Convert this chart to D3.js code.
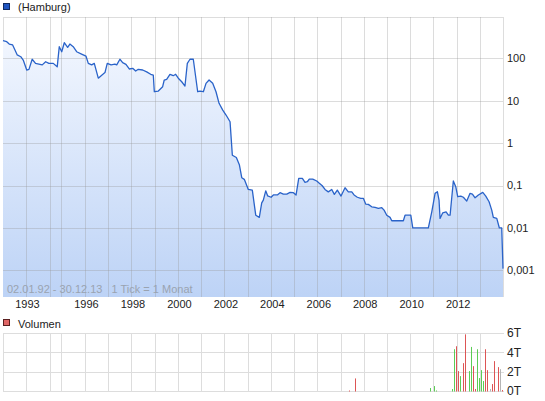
<!DOCTYPE html>
<html>
<head>
<meta charset="utf-8">
<script src="https://cdn.jsdelivr.net/npm/d3@7"></script>
<style>
  body { margin: 0; background: #fff; }
  svg text { font-family: "Liberation Sans", Arial, sans-serif; font-size: 11px; fill: #222; }
</style>
</head>
<body>
<div id="chart"></div>
<script>
// price series
const priceDates = ["1992-01-02","1992-03-01","1992-04-10","1992-06-03","1992-07-10","1992-08-15","1992-10-10","1992-11-18","1993-01-12","1993-02-15",
  "1993-04-05","1993-05-26","1993-07-16","1993-09-05","1993-10-27","1993-12-15","1994-04-20","1994-08-28","1994-11-05","1995-01-12",
  "1995-02-20","1995-04-12","1995-05-16","1995-07-06","1995-08-27","1995-11-10","1996-01-16","1996-02-22","1996-04-15","1996-05-26",
  "1996-07-28","1996-09-20","1996-11-10","1996-12-16","1997-02-14","1997-04-15","1997-05-14","1997-07-03","1997-08-15","1997-10-06",
  "1997-11-27","1998-01-20","1998-03-08","1998-04-18","1998-06-26","1998-08-28","1998-10-30","1998-12-10","1998-12-26","1999-02-27",
  "1999-05-06","1999-05-31","1999-07-08","1999-08-29","1999-10-20","1999-11-27","2000-01-07","2000-03-01","2000-04-21","2000-05-28",
  "2000-07-09","2000-08-30","2000-11-07","2000-12-13","2001-02-04","2001-03-18","2001-05-05","2001-07-01","2001-08-22","2001-10-09",
  "2001-12-06","2002-01-27","2002-03-31","2002-05-06","2002-07-08","2002-08-24","2002-10-01","2002-11-10","2003-01-12","2003-03-16",
  "2003-05-09","2003-07-04","2003-08-11","2003-09-05","2003-10-13","2003-11-13","2004-01-05","2004-02-10","2004-04-13","2004-05-25",
  "2004-07-16","2004-09-08","2004-10-30","2004-12-21","2005-02-01","2005-03-15","2005-05-11","2005-06-22","2005-07-28","2005-08-28",
  "2005-10-21","2005-12-23","2006-02-02","2006-03-20","2006-05-02","2006-06-23","2006-08-16","2006-09-26","2006-11-12","2007-01-09",
  "2007-03-13","2007-05-04","2007-06-27","2007-08-02","2007-09-23","2007-11-15","2007-12-26","2008-02-01","2008-03-13","2008-05-06",
  "2008-06-27","2008-08-18","2008-10-11","2008-11-16","2008-12-28","2009-02-18","2009-03-17","2009-06-04","2009-09-15","2009-10-12",
  "2010-01-10","2010-02-10","2010-06-05","2010-10-13","2010-12-06","2011-01-27","2011-03-04","2011-03-30","2011-04-15","2011-05-28",
  "2011-07-19","2011-08-24","2011-09-20","2011-11-10","2011-12-18","2012-01-18","2012-03-06","2012-04-16","2012-06-08","2012-07-30",
  "2012-09-05","2012-10-17","2012-12-08","2013-02-15","2013-04-03","2013-05-25","2013-07-06","2013-07-31","2013-09-23","2013-11-03",
  "2013-12-10","2013-12-30"];
const priceValues = [260,247,217,206,157,120,109,91,53,55,
  95,76,73,70,83,76,76,63,188,143,
  233,181,217,188,143,126,113,76,70,76,
  34,40,46,76,70,73,70,95,79,72,
  56,58,50,55,53,48,42,40,16.3,16.9,
  21.4,30.8,32,42,38.9,42,34,28,22.2,76,
  95,95,16.3,16.9,16.3,25.7,30.8,25.7,16.3,8.7,
  6.0,4.6,3.2,0.52,0.457,0.31,0.153,0.14,0.081,0.078,
  0.020,0.0178,0.039,0.0455,0.075,0.057,0.053,0.060,0.060,0.068,
  0.063,0.063,0.069,0.068,0.060,0.148,0.148,0.119,0.123,0.142,
  0.142,0.128,0.113,0.099,0.081,0.071,0.081,0.062,0.078,0.0565,
  0.0887,0.071,0.071,0.060,0.053,0.050,0.050,0.0366,0.036,0.0316,
  0.0306,0.029,0.030,0.0264,0.020,0.0178,0.0148,0.0148,0.0148,0.020,
  0.020,0.010,0.010,0.010,0.024,0.0655,0.0715,0.0455,0.0168,0.0228,
  0.024,0.020,0.020,0.128,0.094,0.0545,0.0565,0.053,0.043,0.0655,
  0.063,0.0515,0.060,0.069,0.0565,0.0415,0.0264,0.0178,0.0168,0.010,
  0.010,0.0011];

// monthly volume, in T (thousands)
const volumeMonths = ["2007-05","2007-08","2010-11","2011-01","2011-02","2011-10","2011-11","2011-12","2012-01","2012-02",
  "2012-04","2012-05","2012-07","2012-08","2012-09","2012-10","2012-11","2012-12","2013-01","2013-02",
  "2013-03","2013-04","2013-06","2013-07","2013-08","2013-10","2013-11","2013-12"];
const volumeValues = [0.05,1.3,0.31,0.51,0.05,0.2,4.32,4.63,2.06,1.54,
  2.88,5.86,2.06,4.56,2.57,0.21,4.32,1.34,2.16,1.03,
  4.32,2.16,0.21,0.72,3.09,2.47,2.26,0.1];
const volumeMoves = ["down","down","up","up","up","up","up","down","down","up",
  "down","down","up","up","down","down","up","up","up","up",
  "down","down","flat","down","down","down","flat","down"];

const yTicks = [100, 10, 1, 0.1, 0.01, 0.001];
const yTickLabels = ["100", "10", "1", "0,1", "0,01", "0,001"];
const volTicks = [0, 2, 4, 6];
const volTickLabels = ["0T", "2T", "4T", "6T"];
const gridYears = d3.range(1993, 2014);
const xLabelYears = [1993, 1996, 1998, 2000, 2002, 2004, 2006, 2008, 2010, 2012];

const width = 545, height = 401;
const parse = d3.timeParse("%Y-%m-%d");
const parseMonth = d3.timeParse("%Y-%m");

const svg = d3.select("#chart").append("svg")
    .attr("width", width)
    .attr("height", height);

// index based time axis: the early years hold fewer points, so they are narrower
const x = d3.scaleTime()
    .domain(["1992-01-02", "1993-01-01", "1994-01-01", "1995-01-01", "1996-01-01", "2013-12-30"].map(parse))
    .range([3, 26, 50, 61, 85, 503]);

const plot = {left: 3, right: 503, top: 17, bottom: 296};
const y = d3.scaleLog()
    .domain([Math.pow(10, -3.604), Math.pow(10, 2.974)])
    .range([plot.bottom, plot.top]);

const vol = {top: 333, bottom: 391};
const yv = d3.scaleLinear().domain([0, 6]).range([vol.bottom, vol.top]);

const px = v => Math.round(v) + 0.5;

// legend, price
svg.append("rect").attr("x", 3.5).attr("y", 3.5).attr("width", 6).attr("height", 6)
    .attr("fill", "#1f55c0").attr("stroke", "#102a60");
svg.append("text").attr("x", 18).attr("y", 11).text("(Hamburg)");

// fill gradient
const defs = svg.append("defs");
const grad = defs.append("linearGradient").attr("id", "fillGrad")
    .attr("gradientUnits", "userSpaceOnUse")
    .attr("x1", 0).attr("x2", 0).attr("y1", plot.top).attr("y2", plot.bottom);
grad.append("stop").attr("offset", "0%").attr("stop-color", "#f6f9ff");
grad.append("stop").attr("offset", "100%").attr("stop-color", "#bdd3f6");

const data = priceDates.map((d, i) => ({date: parse(d), value: priceValues[i]}));

// plot frame
svg.append("rect")
    .attr("x", plot.left + 0.5).attr("y", plot.top + 0.5)
    .attr("width", plot.right - plot.left).attr("height", plot.bottom - plot.top)
    .attr("fill", "#fff").attr("stroke", "#dddddd");

const area = d3.area()
    .x(d => x(d.date))
    .y0(plot.bottom + 1)
    .y1(d => y(d.value));
svg.append("path").datum(data)
    .attr("d", area)
    .attr("fill", "url(#fillGrad)");

// grid on top of the fill
const grid = svg.append("g").attr("stroke", "rgba(150,150,150,0.33)").attr("stroke-width", 1);
grid.selectAll("line.v").data(gridYears).join("line")
    .attr("x1", d => px(x(new Date(d, 0, 1)))).attr("x2", d => px(x(new Date(d, 0, 1))))
    .attr("y1", plot.top).attr("y2", plot.bottom + 1);
grid.selectAll("line.h").data(yTicks).join("line")
    .attr("x1", plot.left).attr("x2", plot.right)
    .attr("y1", d => px(y(d))).attr("y2", d => px(y(d)));

const line = d3.line()
    .x(d => x(d.date))
    .y(d => y(d.value));
svg.append("path").datum(data)
    .attr("d", line)
    .attr("fill", "none")
    .attr("stroke", "#2a63c9")
    .attr("stroke-width", 1.3)
    .attr("stroke-linejoin", "round");

// y axis labels
svg.selectAll("text.ylab").data(yTicks).join("text")
    .attr("class", "ylab")
    .attr("x", 507)
    .attr("y", d => y(d))
    .attr("dy", "0.35em")
    .text((d, i) => yTickLabels[i]);

// range note
svg.append("text")
    .attr("x", 7).attr("y", 293)
    .style("fill", "#9aa3b0")
    .style("white-space", "pre")
    .text("02.01.92 - 30.12.13   1 Tick = 1 Monat");

// x labels
svg.selectAll("text.xlab").data(xLabelYears).join("text")
    .attr("class", "xlab")
    .attr("x", d => x(new Date(d, 0, 1)) + 1.5)
    .attr("y", 308)
    .attr("text-anchor", "middle")
    .text(d => d);

// volume panel
svg.append("rect").attr("x", 3.5).attr("y", 319.5).attr("width", 6).attr("height", 6)
    .attr("fill", "#e06666").attr("stroke", "#5a2020");
svg.append("text").attr("x", 18).attr("y", 328).text("Volumen");

const vg = svg.append("g").attr("stroke", "#dddddd");
vg.selectAll("line.v").data([1992].concat(gridYears)).join("line")
    .attr("x1", d => px(d === 1992 ? x.range()[0] : x(new Date(d, 0, 1))))
    .attr("x2", d => px(d === 1992 ? x.range()[0] : x(new Date(d, 0, 1))))
    .attr("y1", vol.top).attr("y2", vol.bottom);
vg.selectAll("line.h").data(volTicks).join("line")
    .attr("x1", plot.left).attr("x2", plot.right + 1)
    .attr("y1", d => px(yv(d))).attr("y2", d => px(yv(d)));

const moveColor = {up: "#5ccc55", down: "#dd5555", flat: "#b5b5b5"};
svg.selectAll("rect.vbar").data(volumeValues).join("rect")
    .attr("class", "vbar")
    .attr("x", (d, i) => Math.round(x(d3.timeDay.offset(parseMonth(volumeMonths[i]), 14))))
    .attr("width", 1)
    .attr("y", d => yv(d))
    .attr("height", d => yv(0) - yv(d) + 0.5)
    .attr("fill", (d, i) => moveColor[volumeMoves[i]]);

svg.selectAll("text.vlab").data(volTicks).join("text")
    .attr("class", "vlab")
    .attr("x", 507)
    .attr("y", d => yv(d))
    .attr("dy", "0.35em")
    .style("font-size", "12px")
    .text((d, i) => volTickLabels[i]);
</script>
</body>
</html>
